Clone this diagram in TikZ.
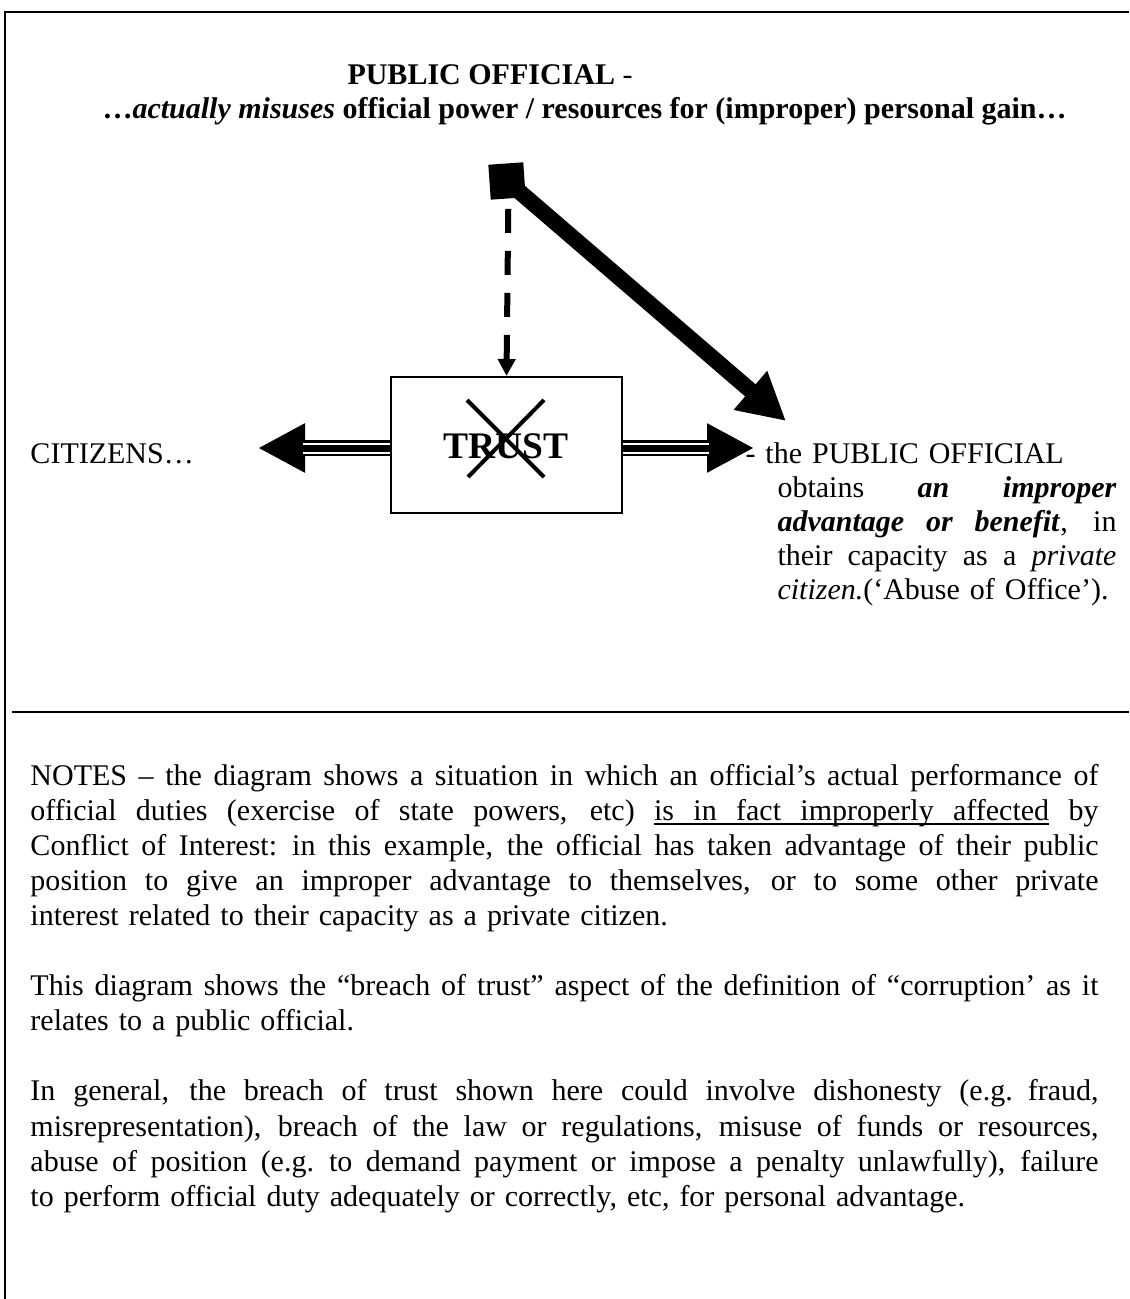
\documentclass[tikz,border=0pt]{standalone}
\usepackage{fontspec}
\setmainfont{Liberation Serif}
\usetikzlibrary{arrows.meta,positioning}
\tikzstyle{textline}=[inner sep=0pt, anchor=base west
,font=\fontsize{12}{14.04}\selectfont
]
\tikzstyle{trustbox}=[draw, line width=0.8pt
,minimum width=92.4pt, minimum height=54.4pt
,inner sep=0pt
]
\tikzstyle{marker}=[fill, minimum size=14pt, inner sep=0pt, rotate=4]
\tikzstyle{bigarrow}=[draw, line width=6.4pt, -{Triangle[length=18.8pt,width=19.2pt]}]
\tikzstyle{dasharrow}=[draw, line width=2.4pt, dash pattern=on 9.6pt off 7.2pt, -{Triangle[length=6.8pt,width=6.8pt]}]
\tikzstyle{shaft}=[draw, line width=6.4pt, -{Triangle[length=18.8pt,width=18.4pt]}]
\tikzstyle{shaftgap}=[draw=white, double=black, line width=0.8pt, double distance=2.8pt, shorten >=18pt]
\tikzstyle{crossline}=[draw, line width=1.6pt]
\tikzstyle{frame}=[draw, line width=0.8pt]
% a justified line: all spaces share the stretch
\newcommand{\jline}[1]{\makebox[\linewidth][s]{\spaceskip=\fontdimen2\font plus 1fil\relax #1}\par}
\newcommand{\gapline}{\par\vspace{14.04pt}}
% underlined words and stretchable underlined spaces
\newcommand{\ulw}[1]{\setbox0\hbox{#1}\rlap{\rule[-1.8pt]{\wd0}{0.6pt}}\box0\relax}
\newcommand{\uls}{\leaders\hrule height -1.2pt depth 1.8pt\hskip\fontdimen2\font plus 1fil\relax}

\begin{document}
\begin{tikzpicture}[x=0.4pt, y=-0.4pt]
    \fill[white] (0,0) rectangle (1129,1299);
    \useasboundingbox (0,0) rectangle (1129,1299);
    % frame and separator
    \path[frame] (1129,12) -- (5,12) -- (5,1299);
    \path[frame] (12,712) -- (1129,712);

    % heading
    \node[textline] (head) at (347,85) {\textbf{PUBLIC OFFICIAL} -};
    \node[textline] (headsub) at (102,118) {\textbf{…\textit{actually misuses} official power / resources for (improper) personal gain…}};

    % the official and the trust box
    \node[marker] (official) at (507,181) {};
    \node[trustbox] (trust) at (506.5,445) {};

    \coordinate (gain) at (786,421);
    \coordinate (citz) at (258,448);
    \coordinate (self) at (754,448);

    % connectors
    \path[bigarrow] (official.center) -- (gain);
    \path[dasharrow] (official.south) ++(0,10) -- (trust.north);
    \foreach \side/\dest in {west/citz, east/self} {
        \path[shaft] (trust.\side |- \dest) -- (\dest);
        \path[shaftgap] (trust.\side |- \dest) -- (\dest);
    }
    \node[inner sep=0pt, anchor=base, font=\fontsize{15}{18}\selectfont\bfseries] (trustlabel) at (506,458) {TRUST};
    \path[crossline] (467,400) -- (544,477);
    \path[crossline] (544,400) -- (468,477);

    % side texts
    \node[textline] (citizens) at (30,463) {CITIZENS…};
    \node[textline, text width=135.6pt, font=\fontsize{12}{13.6}\selectfont] (benefit) at (777,463) {%
        \hspace*{-12.8pt}- the PUBLIC OFFICIAL\par
        \jline{obtains \textbf{\textit{an improper}}}
        \jline{\textbf{\textit{advantage or benefit}}, in}
        \jline{their capacity as a \textit{private}}
        \textit{citizen.}(‘Abuse of Office’).};

    % notes
    \node[textline, text width=427.2pt] (notes) at (30,785) {%
        \jline{NOTES – the diagram shows a situation in which an official’s actual performance of}
        \jline{official duties (exercise of state powers, etc) \ulw{is}\uls\ulw{in}\uls\ulw{fact}\uls\ulw{improperly}\uls\ulw{affected} by}
        \jline{Conflict of Interest: in this example, the official has taken advantage of their public}
        \jline{position to give an improper advantage to themselves, or to some other private}
        interest related to their capacity as a private citizen.\gapline
        \jline{This diagram shows the “breach of trust” aspect of the definition of “corruption’ as it}
        relates to a public official.\gapline
        \jline{In general, the breach of trust shown here could involve dishonesty (e.g. fraud,}
        \jline{misrepresentation), breach of the law or regulations, misuse of funds or resources,}
        \jline{abuse of position (e.g. to demand payment or impose a penalty unlawfully), failure}
        to perform official duty adequately or correctly, etc, for personal advantage.};
\end{tikzpicture}
\end{document}
